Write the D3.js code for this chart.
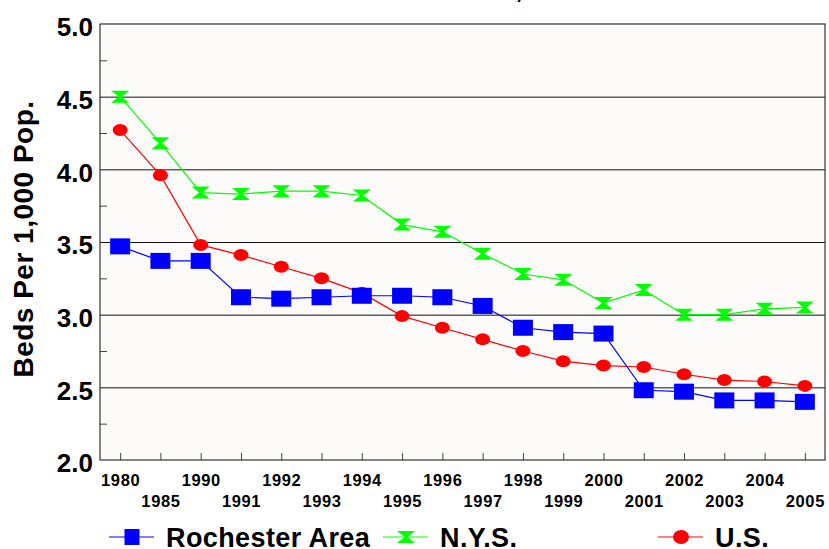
<!DOCTYPE html>
<html>
<head>
<meta charset="utf-8">
<script src="https://cdn.jsdelivr.net/npm/d3@7"></script>
<style>
  body { margin: 0; background: #fff; }
  text { font-family: "Liberation Sans", Arial, sans-serif; font-weight: bold; fill: #000; }
</style>
</head>
<body>
<div id="chart"></div>
<script>
var years = ["1980", "1985", "1990", "1991", "1992", "1993", "1994", "1995", "1996",
             "1997", "1998", "1999", "2000", "2001", "2002", "2003", "2004", "2005"];

var rochester = [3.47, 3.37, 3.37, 3.12, 3.11, 3.12, 3.13, 3.13, 3.12,
                 3.06, 2.91, 2.88, 2.87, 2.48, 2.47, 2.41, 2.41, 2.40];
var nys = [4.50, 4.18, 3.84, 3.83, 3.85, 3.85, 3.82, 3.62, 3.57,
           3.42, 3.28, 3.24, 3.08, 3.17, 3.00, 3.00, 3.04, 3.05];
var us = [4.27, 3.96, 3.48, 3.41, 3.33, 3.25, 3.15, 2.99, 2.91,
          2.83, 2.75, 2.68, 2.65, 2.64, 2.59, 2.55, 2.54, 2.51];

var yTicks = [2.0, 2.5, 3.0, 3.5, 4.0, 4.5, 5.0];
var yMinor = [2.25, 2.75, 3.25, 3.75, 4.25, 4.75];
var seriesNames = ["Rochester Area", "N.Y.S.", "U.S."];

var W = 829, H = 549,
    plotL = 100, plotR = 825, plotT = 24, plotB = 460;

var svg = d3.select("#chart").append("svg")
    .attr("width", W)
    .attr("height", H)

var x = d3.scalePoint().domain(years).range([plotL, plotR]).padding(0.5);
var y = d3.scaleLinear().domain([2, 5]).range([plotB, plotT]);

// plot background
svg.append("rect")
    .attr("x", plotL).attr("y", plotT)
    .attr("width", plotR - plotL).attr("height", plotB - plotT)
    .style("fill", "#fcfbf9")

// cut-off title above the frame, only the comma tail shows
svg.append("text")
    .attr("x", 519).attr("y", -2)
    .attr("text-anchor", "middle")
    .style("font-size", "26px")
    .text(",")

// gridlines
svg.append("g")
    .attr("transform", "translate(" + plotL + ",0)")
    .call(d3.axisLeft(y).tickValues(yTicks.slice(1, -1)).tickSize(-(plotR - plotL)).tickFormat(""))
    .call(function(g) {
        g.select(".domain").remove();
        g.selectAll("line").style("stroke", "#111").style("stroke-width", 1);
    })

// minor y ticks inside
svg.append("g")
    .attr("transform", "translate(" + plotL + ",0)")
    .call(d3.axisLeft(y).tickValues(yMinor).tickSize(-7).tickFormat(""))
    .call(function(g) {
        g.select(".domain").remove();
        g.selectAll("line").style("stroke", "#444");
    })

// y labels
svg.append("g")
    .attr("transform", "translate(" + plotL + ",0)")
    .call(d3.axisLeft(y).tickValues(yTicks).tickSize(0).tickPadding(7).tickFormat(d3.format(".1f")))
    .call(function(g) {
        g.select(".domain").remove();
        g.selectAll("text").style("font-size", "26px").style("font-family", "'Liberation Sans', Arial, sans-serif")
            .style("font-weight", "bold").attr("dy", "0.45em");
    })

// x axis with ticks pointing up and two rows of labels
svg.append("g")
    .attr("transform", "translate(0," + plotB + ")")
    .call(d3.axisBottom(x).tickSize(-7).tickPadding(0))
    .call(function(g) {
        g.select(".domain").remove();
        g.selectAll("line").style("stroke", "#444");
        g.selectAll("text")
            .style("font-size", "16.5px").style("font-family", "'Liberation Sans', Arial, sans-serif")
            .style("font-weight", "bold").style("letter-spacing", "0.6px")
            .attr("y", function(d, i) { return i % 2 == 0 ? 26 : 47; })
            .attr("dy", 0);
    })

// frame
svg.append("rect")
    .attr("x", plotL).attr("y", plotT)
    .attr("width", plotR - plotL).attr("height", plotB - plotT)
    .style("fill", "none")
    .style("stroke", "#333")
    .style("stroke-width", 1.2)

// y title
svg.append("text")
    .attr("transform", "translate(33,239) rotate(-90)")
    .attr("text-anchor", "middle")
    .style("font-size", "28px")
    .style("letter-spacing", "0.5px")
    .text("Beds Per 1,000 Pop.")

var line = d3.line()
    .x(function(d, i) { return x(years[i]); })
    .y(function(d) { return y(d); })

function square(g, w, h, color) {
    g.append("rect").attr("x", -w / 2).attr("y", -h / 2).attr("width", w).attr("height", h)
        .style("fill", color);
}
function dot(g, rx, ry, color) {
    g.append("ellipse").attr("rx", rx).attr("ry", ry).style("fill", color);
}
function hourglass(g, w, h, color) {
    g.append("path")
        .attr("d", "M" + (-w / 2) + "," + (-h / 2) + "L" + (w / 2) + "," + (-h / 2) +
                   "L1.5,0L" + (w / 2) + "," + (h / 2) + "L" + (-w / 2) + "," + (h / 2) + "L-1.5,0Z")
        .style("fill", color);
}

var series = [
    { name: seriesNames[0], values: rochester, color: "#0000ff", light: "#8080ff", marker: function(g) { square(g, 20, 16, "#0000ff"); } },
    { name: seriesNames[1], values: nys, color: "#00ff00", light: "#80ff80", marker: function(g) { hourglass(g, 18, 12, "#00ff00"); } },
    { name: seriesNames[2], values: us, color: "#ff0000", light: "#ff8080", marker: function(g) { dot(g, 7.5, 6, "#ff0000"); } }
];

// draw green first, then red, blue on top like the reference
[1, 2, 0].forEach(function(k) {
    var s = series[k];
    svg.append("path")
        .datum(s.values)
        .attr("d", line)
        .style("fill", "none")
        .style("stroke", s.color)
        .style("stroke-width", 1.2)
    svg.append("g").selectAll("g")
        .data(s.values)
        .enter().append("g")
        .attr("transform", function(d, i) { return "translate(" + x(years[i]) + "," + y(d) + ")"; })
        .each(function() { s.marker(d3.select(this)); })
});

// legend
var legendX = [109, 383, 658];
var legend = svg.selectAll(".legend")
    .data(series)
    .enter().append("g")
    .attr("class", "legend")
    .attr("transform", function(d, i) { return "translate(" + legendX[i] + ",537)"; })

legend.append("line")
    .attr("x1", 0).attr("x2", 45)
    .style("stroke", function(d) { return d.light; })
    .style("stroke-width", 2)

legend.each(function(d, i) {
    var g = d3.select(this).append("g").attr("transform", "translate(23,0)");
    if (i == 0) square(g, 15, 16, d.color);
    else if (i == 1) hourglass(g, 18, 12, d.color);
    else dot(g, 8, 7, d.color);
})

legend.append("text")
    .attr("x", 57)
    .attr("y", 9.5)
    .style("font-size", "27px")
    .style("letter-spacing", "0.4px")
    .text(function(d) { return d.name; })
</script>
</body>
</html>
